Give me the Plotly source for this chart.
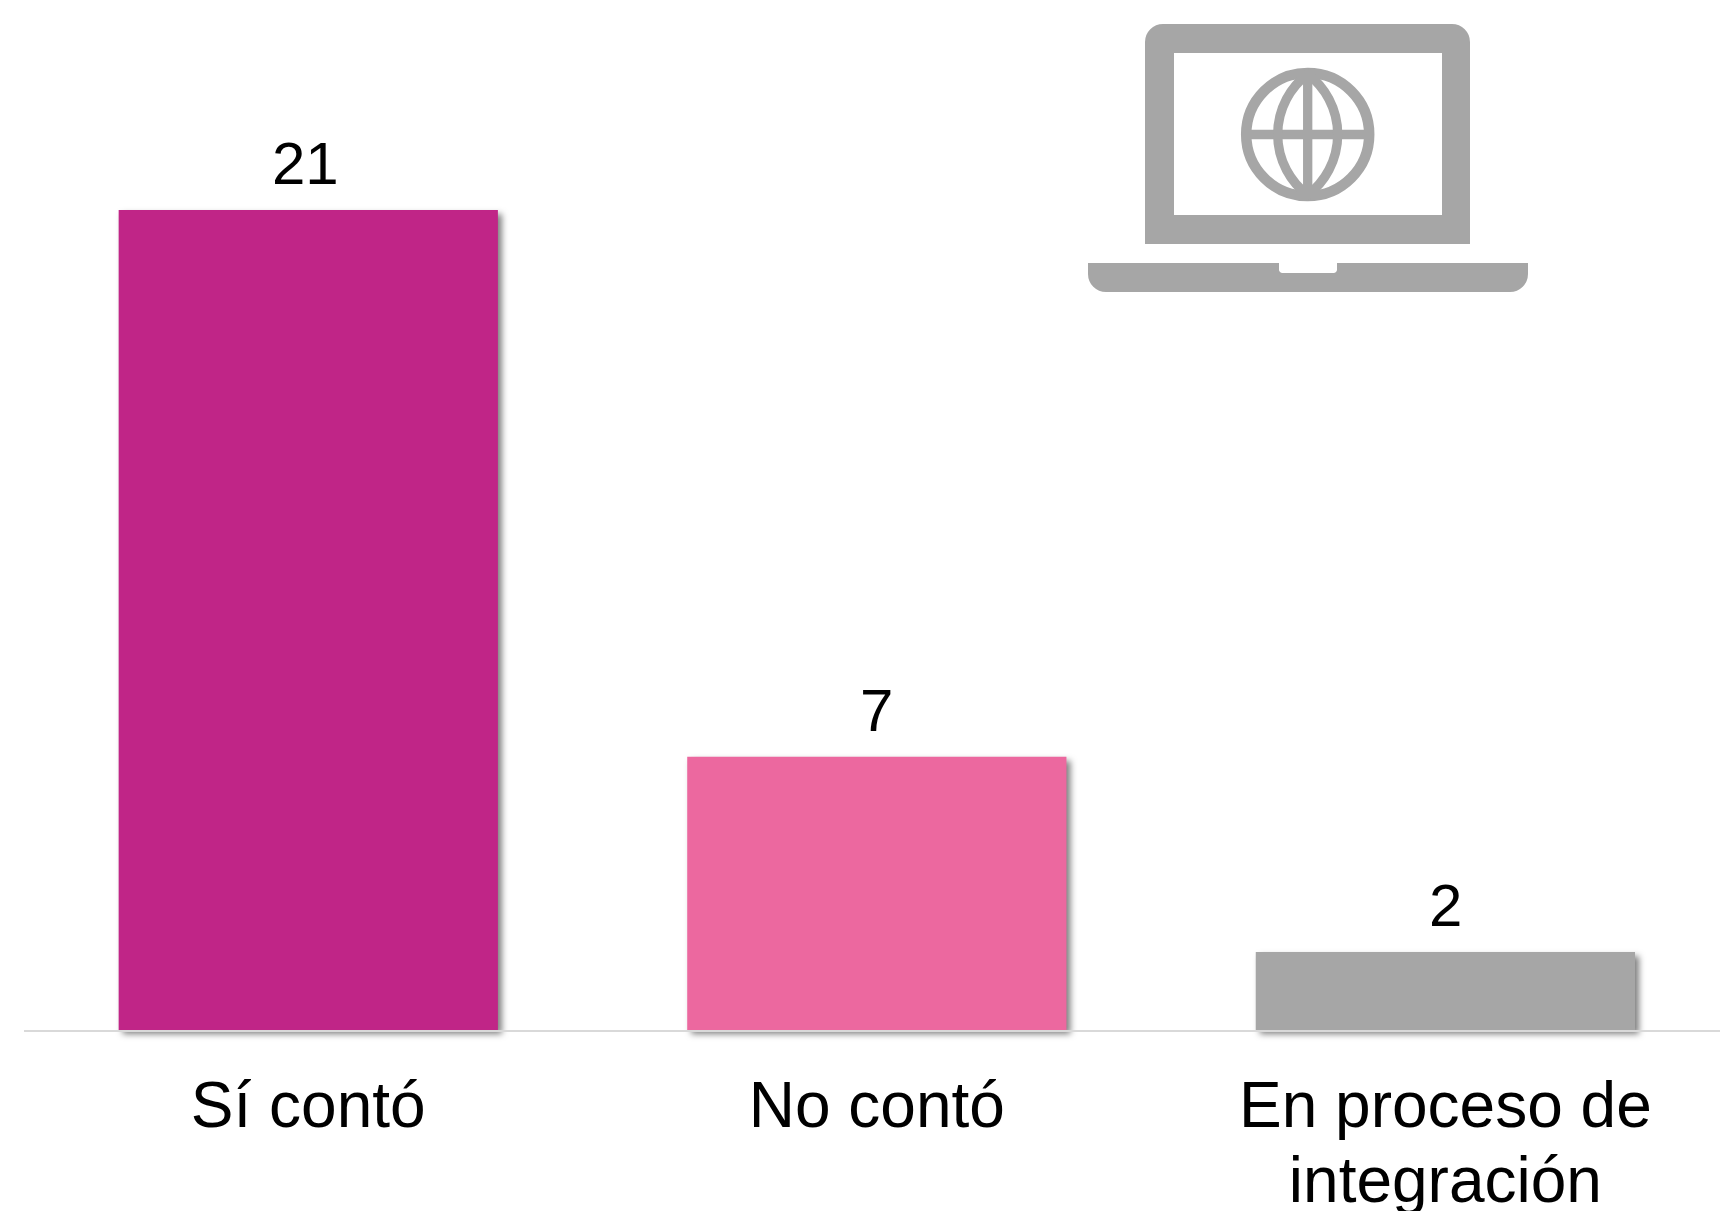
import base64
import plotly.graph_objects as go

categories = ["Sí contó", "No contó", "En proceso de<br>integración"]
values = [21, 7, 2]
colors = ["#C02587", "#EC689F", "#A6A6A6"]
label_shift = [-3, 0, 0]

ICON = "#A6A6A6"
svg = f"""<svg xmlns='http://www.w3.org/2000/svg' viewBox='24 0 1696 1030' width='1696' height='1030'>
<path fill-rule='evenodd' fill='{ICON}' d='M1145 42 A18 18 0 0 1 1163 24 H1452 A18 18 0 0 1 1470 42 V244 H1145 Z M1174 53 V215 H1442 V53 Z'/>
<path fill='{ICON}' d='M1088 263 H1279 V269 A3.5 3.5 0 0 0 1282.5 273 H1333 A3.5 3.5 0 0 0 1337 269 V263 H1528 V274 A18 18 0 0 1 1510 292 H1106 A18 18 0 0 1 1088 274 Z'/>
<g fill='none' stroke='{ICON}'>
<circle cx='1307.7' cy='134.5' r='61.5' stroke-width='10.5'/>
<path stroke-width='9.3' d='M1247 134.5 H1368 M1307.7 74 V195'/>
<path stroke-width='9.3' d='M1307.7 74 A76 76 0 0 0 1307.7 195 A76 76 0 0 0 1307.7 74 Z'/>
</g></svg>"""
uri = "data:image/svg+xml;base64," + base64.b64encode(svg.encode()).decode()

fig = go.Figure(go.Bar(
    x=categories, y=values, marker=dict(color=colors, line_width=0),
    cliponaxis=False, width=0.667,
))
fig.update_layout(
    width=1720, height=1211, margin=dict(l=24, r=0, t=0, b=181),
    paper_bgcolor="white", plot_bgcolor="white", showlegend=False,
    font=dict(family="Liberation Sans", color="#000000"),
    images=[dict(source=uri, xref="paper", yref="paper", x=0, y=1, sizex=1, sizey=1,
                 xanchor="left", yanchor="top", sizing="stretch", layer="above")],
    annotations=[dict(x=c, y=v, text=str(v), showarrow=False, yanchor="bottom", xanchor="center",
                      xshift=s, yshift=11, font=dict(family="Liberation Sans", size=60, color="#000000"))
                 for c, v, s in zip(categories, values, label_shift)],
)
fig.update_xaxes(
    type="category", range=[-0.5, 2.483], showline=True, linecolor="#D9D9D9", linewidth=2,
    showgrid=False, ticks="outside", ticklen=18, tickcolor="rgba(0,0,0,0)",
    tickfont=dict(family="Liberation Sans", size=64, color="#000000"),
    tickangle=0, automargin=False,
)
fig.update_yaxes(range=[0, 26.38], visible=False, showgrid=False)

post = """
document.body.style.margin='0';
document.documentElement.style.overflow='hidden';
function finish(){
  document.querySelectorAll('.cartesianlayer [clip-path], .cartesianlayer .plot').forEach(function(g){
    g.removeAttribute('clip-path'); g.style.clipPath='none';
  });
  document.querySelectorAll('.bars .point path').forEach(function(p){
    p.style.filter='drop-shadow(4px 4px 3px rgba(0,0,0,0.5))';
  });
  document.querySelectorAll('.xtick text tspan.line').forEach(function(t){
    if(parseFloat(t.getAttribute('dy'))>0){ t.setAttribute('dy','1.17em'); }
  });
}
finish();
requestAnimationFrame(finish);
"""
fig.write_html("out.html", post_script=post, config={"displayModeBar": False})
